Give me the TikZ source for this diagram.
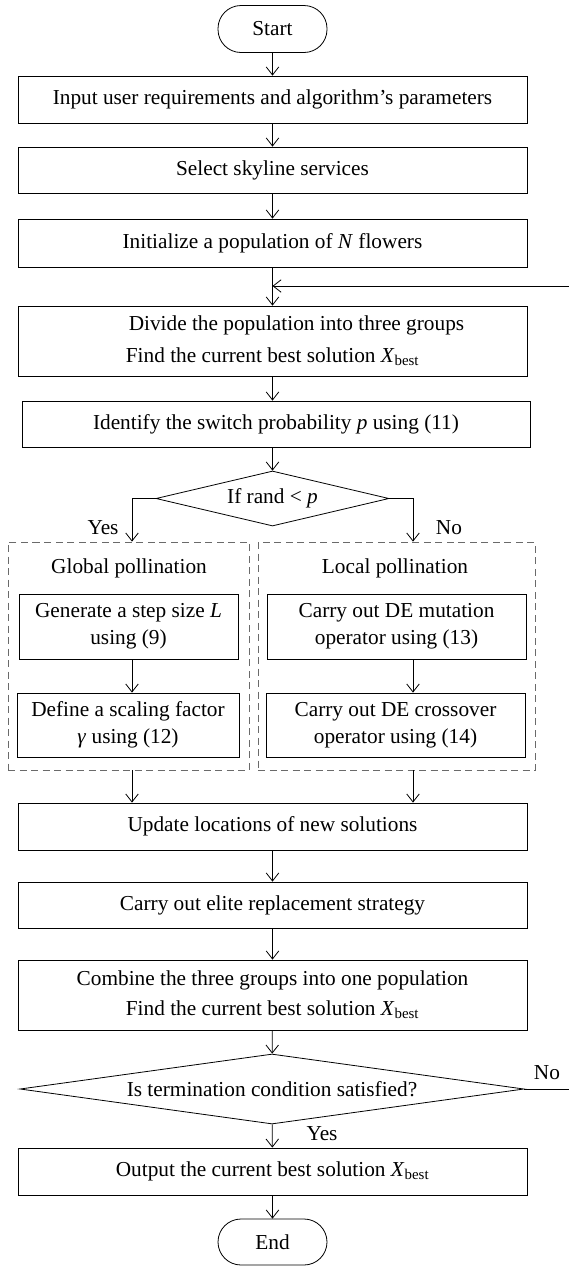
\documentclass[tikz,border=0pt]{standalone}
\usepackage{fontspec}
\setmainfont{Liberation Serif}
\usetikzlibrary{arrows.meta,shapes.geometric}
\definecolor{frameGray}{HTML}{6A6A6A}

\begin{document}
\begin{tikzpicture}[
  x=1pt, y=1pt,
  font=\fontsize{21.3}{27}\selectfont,
  line join=miter,
  >={Straight Barb[length=8pt,width=12.5pt]},
  flow line/.style={draw=black, line width=.8pt},
  flow box/.style={flow line, rectangle, inner sep=1pt, align=center,
    minimum width=509pt, minimum height=47pt},
  small box/.style={flow box, minimum width=219pt, minimum height=65pt},
  flow term/.style={flow line, rectangle, rounded corners=23pt,
    minimum width=109pt, minimum height=47pt},
  flow decision/.style={flow line, diamond, inner sep=0pt},
  group frame/.style={draw=frameGray, line width=.8pt, dashed,
    dash pattern=on 7pt off 4.5pt, minimum height=228pt, inner sep=0pt}
]
\useasboundingbox (0,0) rectangle (569,-1267);

% Main column, top part.
\node[flow term] (start) at (272.5,-29) {Start};
\node[flow box] (input) at (272.5,-99.5)
  {Input user requirements and algorithm’s parameters};
\node[flow box, minimum height=46pt] (select) at (272.5,-170)
  {Select skyline services};
\node[flow box, minimum height=48pt] (init) at (272.5,-243)
  {Initialize a population of \textit{N} flowers};
\node[flow box, minimum height=70pt] (divide) at (272.5,-341)
  {\hspace*{48pt}Divide the population into three groups\\[5pt]
   Find the current best solution \textit{X}\textsubscript{best}};
\node[flow box, minimum width=508pt, minimum height=46pt] (identify) at (276,-424)
  {Identify the switch probability \textit{p} using (11)};
\node[flow decision, minimum width=233pt, minimum height=55pt,
  shape aspect=4.2] (rand) at (272.5,-498.5) {If rand < \textit{p}};

\coordinate (yes col) at (132,-498.5);
\coordinate (no col) at (413,-498.5);
\node (yes1) at (103,-528) {Yes};
\node (no1) at (449,-528) {No};

% The two pollination groups.
\node[group frame, minimum width=241pt] (global) at (128.5,-656) {};
\node[group frame, minimum width=277pt] (local) at (396.5,-656) {};
\node (global lbl) at (129,-568) {Global pollination};
\node (local lbl) at (395,-568) {Local pollination};

\node[small box] (step) at (128.5,-626.5)
  {Generate a step size \textit{L}\\using (9)};
\node[small box, minimum width=222pt, minimum height=64pt] (scale) at (128,-725)
  {Define a scaling factor\\\textit{γ} using (12)};
\node[small box, minimum width=259pt] (mutate) at (396.5,-626.5)
  {Carry out DE mutation\\operator using (13)};
\node[small box, minimum width=259pt, minimum height=64pt] (cross) at (395.5,-725)
  {Carry out DE crossover\\operator using (14)};

% Main column, lower part.
\node[flow box] (update) at (272.5,-826.5)
  {Update locations of new solutions};
\node[flow box, minimum height=46pt] (elite) at (272.5,-905)
  {Carry out elite replacement strategy};
\node[flow box, minimum height=70pt] (combine) at (272.5,-995)
  {Combine the three groups into one population\\[3pt]
   Find the current best solution \textit{X}\textsubscript{best}};
\node[flow decision, minimum width=504pt, minimum height=70pt,
  shape aspect=7.2] (stop) at (272,-1089) {Is termination condition satisfied?};
\node (no2) at (547,-1073) {No};
\node (yes2) at (322,-1134) {Yes};
\node[flow box] (output) at (272.5,-1171.5)
  {Output the current best solution \textit{X}\textsubscript{best}};
\node[flow term, minimum height=46pt] (end) at (272.5,-1242) {End};

% Connectors.
\draw[flow line, ->] (start) -- (input);
\draw[flow line, ->] (input) -- (select);
\draw[flow line, ->] (select) -- (init);
\draw[flow line, ->] (init) -- (divide);
\draw[flow line, ->] (divide.south -| identify.north) ++(-3.5,0) coordinate (d1)
  -- (d1 |- identify.north);
\draw[flow line, ->] (d1 |- identify.south) -- (rand.north);
\draw[flow line, ->] (rand.west) -- (rand.west -| yes col) -- (yes col |- global.north);
\draw[flow line, ->] (rand.east) -- (rand.east -| no col) -- (no col |- local.north);
\draw[flow line, ->] (yes col |- step.south) -- (yes col |- scale.north);
\draw[flow line, ->] (no col |- mutate.south) -- (no col |- cross.north);
\draw[flow line, ->] (yes col |- global.south) -- (yes col |- update.north);
\draw[flow line, ->] (no col |- local.south) -- (no col |- update.north);
\draw[flow line, ->] (update) -- (elite);
\draw[flow line, ->] (elite) -- (combine);
\draw[flow line, ->] (combine) -- (stop);
\draw[flow line, ->] (stop) -- (output);
\draw[flow line, ->] (output) -- (end);

% Loop back when the condition is not met; its vertical run lies past the page edge.
\coordinate (back) at (571,-286);
\draw[flow line, ->] (stop.east) -- (stop.east -| back) -- (back)
  -- (back -| init.south);
\end{tikzpicture}
\end{document}
